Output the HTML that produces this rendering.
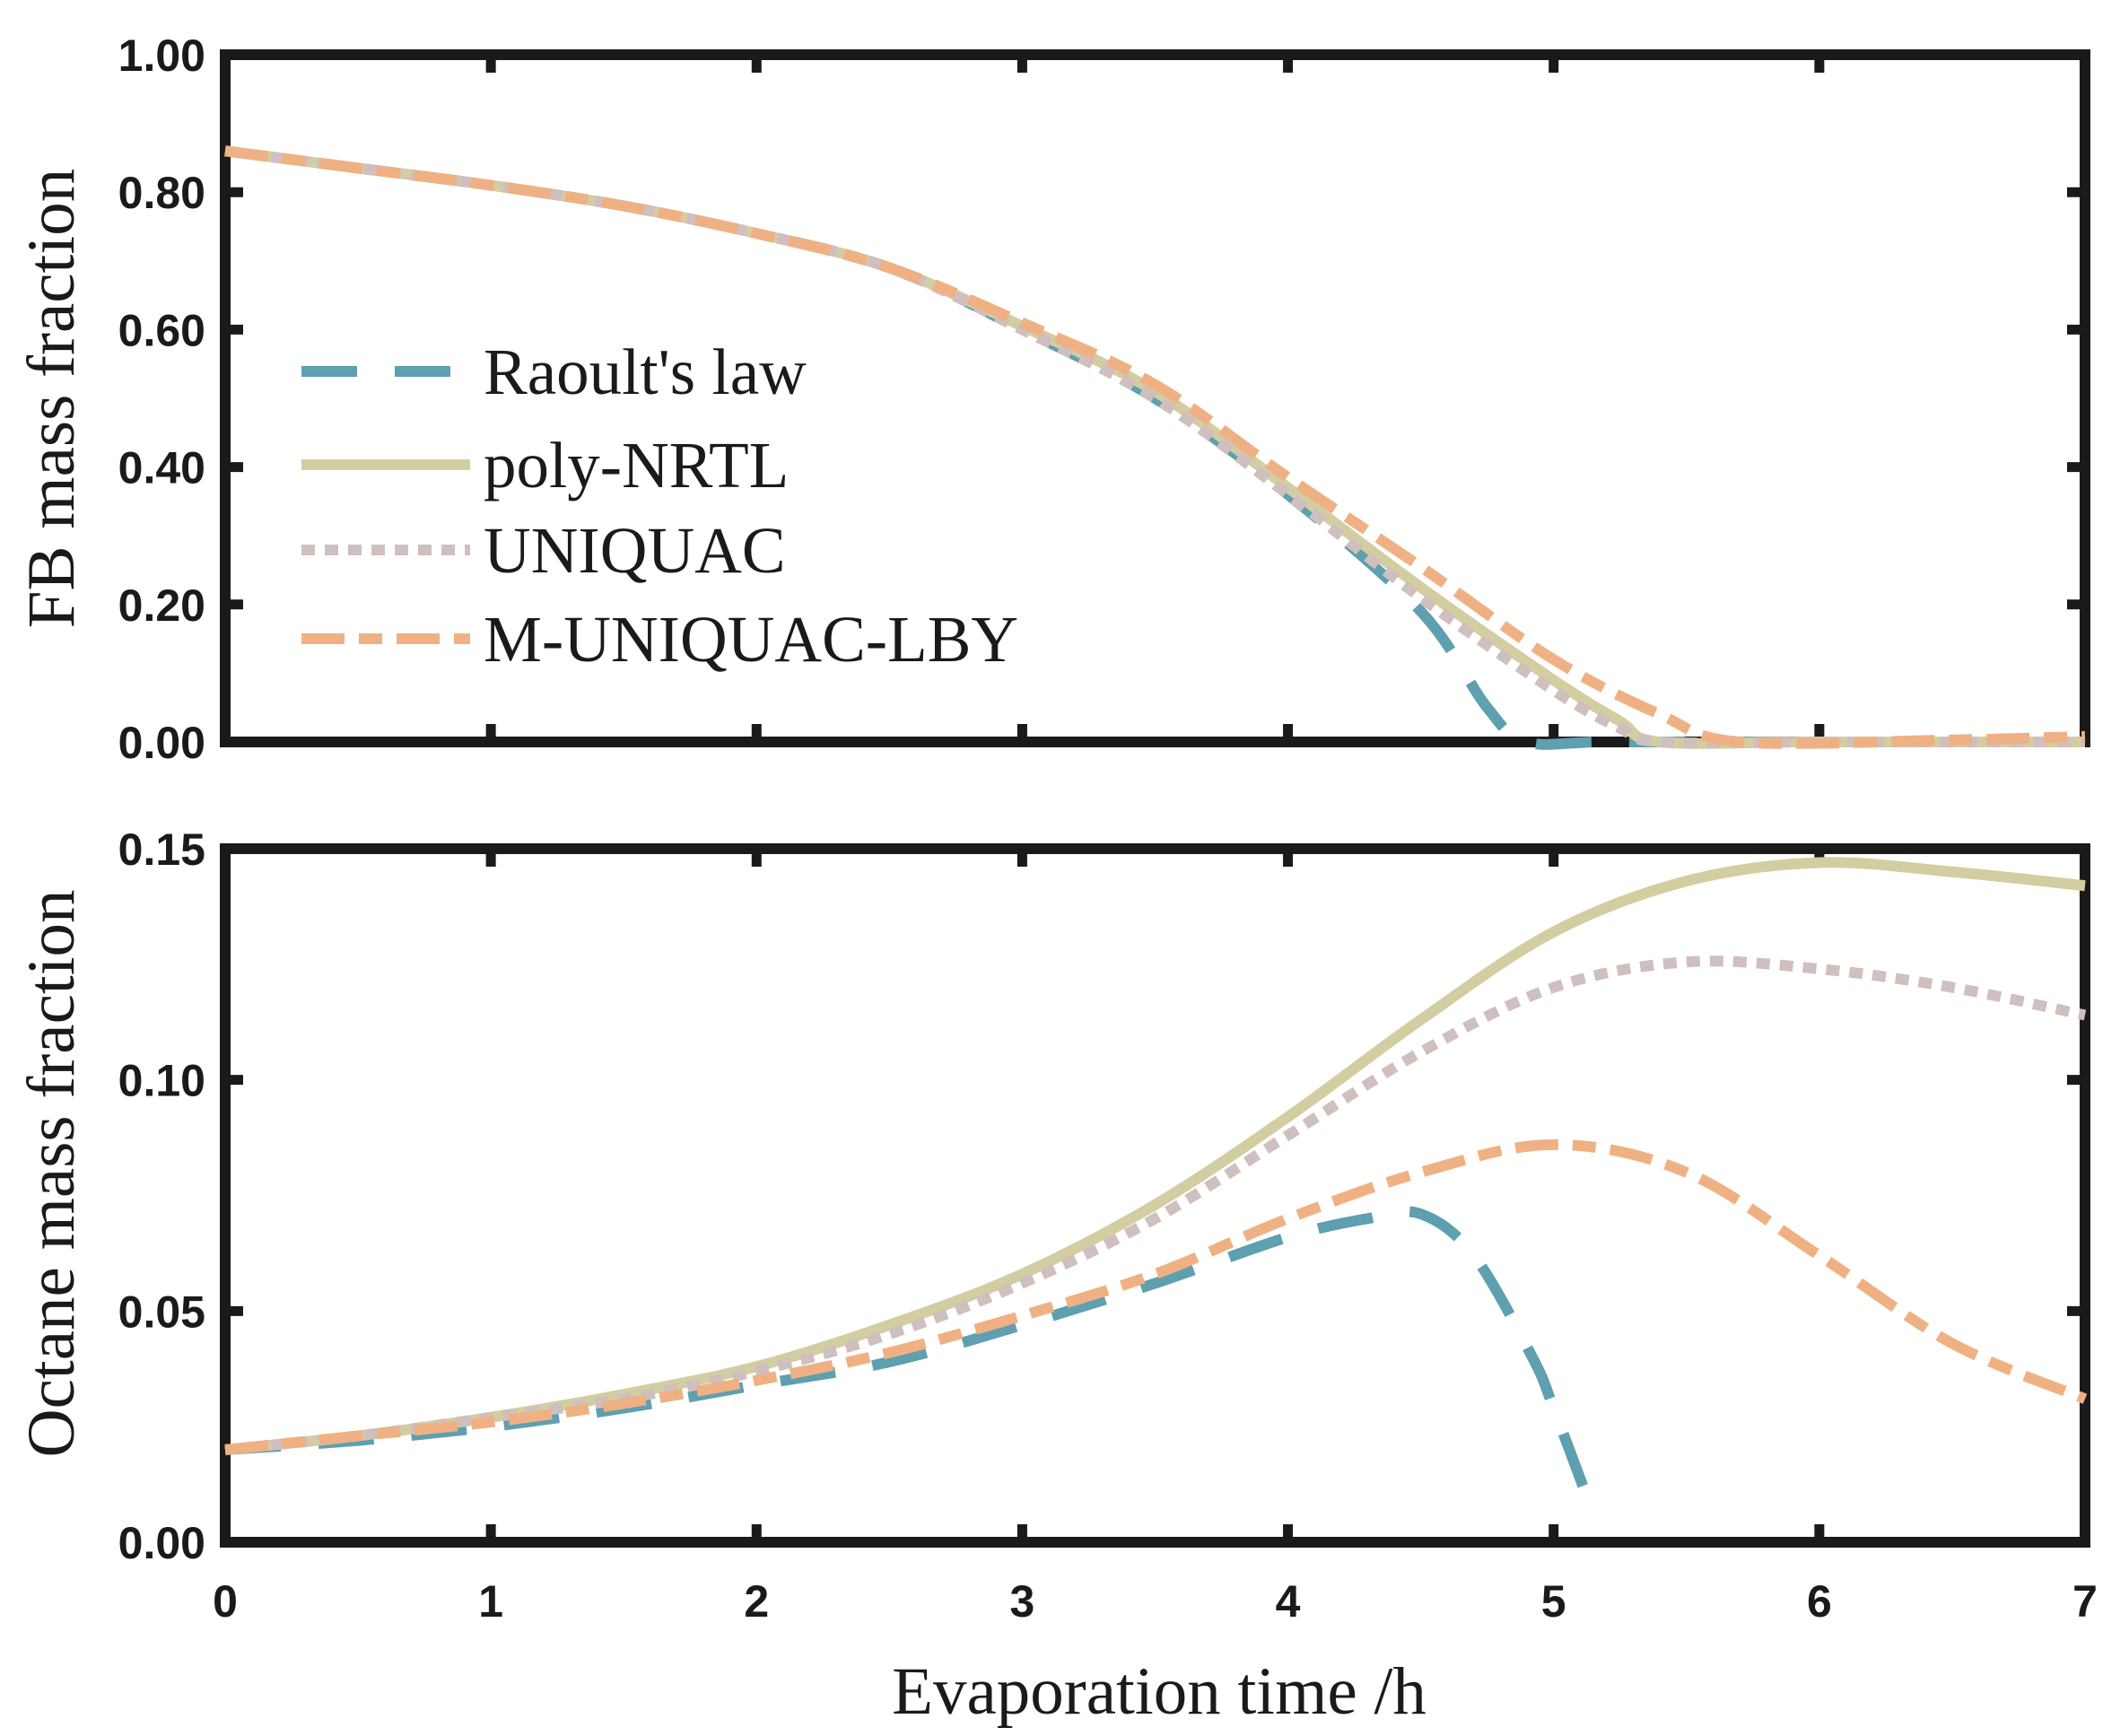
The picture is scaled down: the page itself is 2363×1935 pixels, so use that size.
<!DOCTYPE html>
<html><head><meta charset="utf-8"><style>
html,body{margin:0;padding:0;background:#fff}
svg{display:block}
.tk{font-family:"Liberation Sans",Arial,sans-serif;font-size:50px;font-weight:bold;fill:#1a1a1a}
.ttl{font-family:"Liberation Serif","Times New Roman",serif;font-size:75px;fill:#1a1a1a}
.lg{font-family:"Liberation Serif","Times New Roman",serif;font-size:73px;fill:#1a1a1a}
</style></head><body>
<svg id="chart" width="2363" height="1935" viewBox="0 0 2363 1935"></svg>
<script>
const xs = [0,0.5,1,1.5,2,2.5,3,3.5,4,4.5,5,5.5,6,6.5,7];
const fbRaoultX = [0,0.5,1,1.5,2,2.5,3,3.5,4,4.5,4.75,4.9,5.2,6,7];
const fbRaoult = [0.86,0.835,0.81,0.78,0.74,0.69,0.60,0.50,0.36,0.19,0.05,0,0,0,0];
const fbPolyX = [0,0.5,1,1.5,2,2.5,3,3.5,4,4.5,5,5.25,5.4,6,7];
const fbPoly = [0.86,0.835,0.81,0.78,0.74,0.69,0.605,0.51,0.37,0.225,0.09,0.03,0,0,0];
const fbUniq = [0.86,0.835,0.81,0.78,0.74,0.69,0.60,0.50,0.36,0.21,0.075,0.02,0,0,0];
const fbLbyX = [0,0.5,1,1.5,2,2.5,3,3.5,4,4.5,5,5.4,5.7,6.5,7];
const fbLby = [0.86,0.835,0.81,0.78,0.74,0.69,0.61,0.52,0.385,0.255,0.12,0.04,0,0.003,0.008];
const ocPoly = [0.020,0.023,0.027,0.032,0.038,0.047,0.058,0.073,0.092,0.113,0.132,0.143,0.147,0.145,0.142];
const ocUniq = [0.020,0.023,0.027,0.031,0.037,0.045,0.056,0.070,0.088,0.106,0.120,0.1255,0.124,0.120,0.114];
const ocLby = [0.020,0.023,0.026,0.030,0.035,0.041,0.049,0.058,0.070,0.080,0.086,0.080,0.062,0.043,0.031];
const ocRaoultX = [0,0.5,1,1.5,2,2.5,3,3.5,4,4.3,4.5,4.7,4.92,5.0,5.15];
const ocRaoult = [0.020,0.022,0.025,0.029,0.034,0.039,0.047,0.056,0.066,0.070,0.071,0.062,0.040,0.029,0.006];
const xTicks = [0,1,2,3,4,5,6,7];
const fbTicks = [0,0.2,0.4,0.6,0.8,1.0];
const fbTickLabels = ["0.00","0.20","0.40","0.60","0.80","1.00"];
const ocTicks = [0,0.05,0.10,0.15];
const ocTickLabels = ["0.00","0.05","0.10","0.15"];
const legendLabels = ["Raoult's law","poly-NRTL","UNIQUAC","M-UNIQUAC-LBY"];

const NS="http://www.w3.org/2000/svg";
const svg=document.getElementById('chart');
const L=251,R=2324;
const P1={t:61,b:827,max:1.0}, P2={t:946,b:1719,max:0.15};
const xS=v=>L+(R-L)*v/7;
const yS=(p,v)=>p.b-(p.b-p.t)*v/p.max;
const COL={r:"#5e9fb0",p:"#d3cda2",u:"#cfbfbf",m:"#efb183"};
const DASH={r:"62 42",p:"",u:"15 11",m:"48 16 26 16"};
function mk(tag,attrs){const e=document.createElementNS(NS,tag);for(const k in attrs)e.setAttribute(k,attrs[k]);svg.appendChild(e);return e;}
function pathD(pts){let d=`M${pts[0][0]},${pts[0][1]}`;for(let i=0;i<pts.length-1;i++){const p0=pts[Math.max(0,i-1)],p1=pts[i],p2=pts[i+1],p3=pts[Math.min(pts.length-1,i+2)];
const c1=[p1[0]+(p2[0]-p0[0])/6,p1[1]+(p2[1]-p0[1])/6],c2=[p2[0]-(p3[0]-p1[0])/6,p2[1]-(p3[1]-p1[1])/6];
d+=` C${c1[0]},${c1[1]} ${c2[0]},${c2[1]} ${p2[0]},${p2[1]}`;}return d;}
function series(p,X,Y,k,name){const pts=X.map((x,i)=>[xS(x),yS(p,Y[i])]);
const e=mk('path',{d:pathD(pts),fill:'none',stroke:COL[k],'stroke-width':12});
if(DASH[k])e.setAttribute('stroke-dasharray',DASH[k]);

}
function axes(p,ticks,labels,nm){
const f=mk('rect',{x:L,y:p.t,width:R-L,height:p.b-p.t,fill:'none',stroke:'#1a1a1a','stroke-width':12});

ticks.forEach((v,i)=>{const y=yS(p,v);
const a=mk('line',{x1:L,x2:L+20,y1:y,y2:y,stroke:'#1a1a1a','stroke-width':11});
const b=mk('line',{x1:R-20,x2:R,y1:y,y2:y,stroke:'#1a1a1a','stroke-width':11});
const t=mk('text',{x:L-22,y:y+18,'text-anchor':'end',class:'tk'});t.textContent=labels[i];});
xTicks.forEach(v=>{const x=xS(v);
const a=mk('line',{x1:x,x2:x,y1:p.b,y2:p.b-20,stroke:'#1a1a1a','stroke-width':11});
const b=mk('line',{x1:x,x2:x,y1:p.t,y2:p.t+20,stroke:'#1a1a1a','stroke-width':11});});}
axes(P1,fbTicks,fbTickLabels,'top-panel');
axes(P2,ocTicks,ocTickLabels,'bottom-panel');
series(P1,fbRaoultX,fbRaoult,'r','fb-raoult-line');
series(P1,fbPolyX,fbPoly,'p','fb-poly-nrtl-line');
series(P1,fbPolyX,fbUniq,'u','fb-uniquac-line');
series(P1,fbLbyX,fbLby,'m','fb-m-uniquac-lby-line');
series(P2,ocRaoultX,ocRaoult,'r','octane-raoult-line');
series(P2,xs,ocPoly,'p','octane-poly-nrtl-line');
series(P2,xs,ocUniq,'u','octane-uniquac-line');
series(P2,xs,ocLby,'m','octane-m-uniquac-lby-line');
xTicks.forEach(v=>{const t=mk('text',{x:xS(v),y:1802,'text-anchor':'middle',class:'tk'});t.textContent=String(v);
});
const xt=mk('text',{x:1292,y:1910,'text-anchor':'middle',class:'ttl'});xt.textContent='Evaporation time /h';

const y1=mk('text',{x:0,y:0,'text-anchor':'middle',class:'ttl',transform:'translate(82,444) rotate(-90)'});y1.textContent='FB mass fraction';

const y2=mk('text',{x:0,y:0,'text-anchor':'middle',class:'ttl',transform:'translate(82,1308) rotate(-90)'});y2.textContent='Octane mass fraction';

const keys=['r','p','u','m'], ly=[414,518,613,712];
keys.forEach((k,i)=>{const l=mk('line',{x1:336,x2:524,y1:ly[i],y2:ly[i],stroke:COL[k],'stroke-width':12});
if(DASH[k])l.setAttribute('stroke-dasharray',DASH[k]);

const t=mk('text',{x:539,y:ly[i]+25,class:'lg'});t.textContent=legendLabels[i];
});
</script>
</body></html>
